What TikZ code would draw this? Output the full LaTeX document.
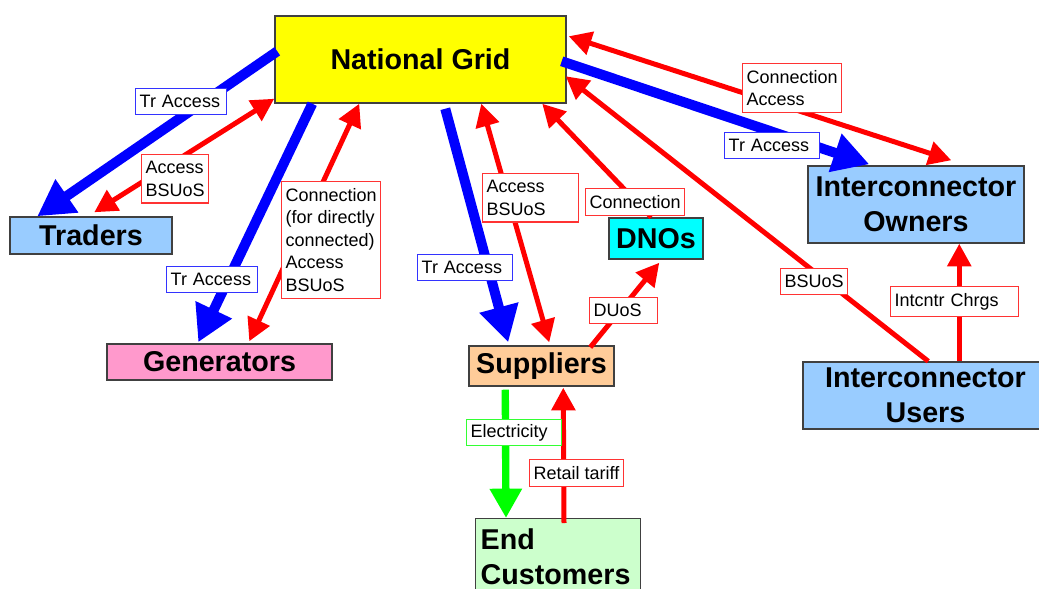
\documentclass[tikz,border=0pt]{standalone}
\usepackage{fontspec}
\setmainfont{Liberation Sans}
\usetikzlibrary{arrows.meta,calc}
\definecolor{grid}{HTML}{FFFF00}
\definecolor{icon}{HTML}{99CCFF}
\definecolor{gens}{HTML}{FF99CC}
\definecolor{supp}{HTML}{FFCC99}
\definecolor{dnos}{HTML}{00FFFF}
\definecolor{cust}{HTML}{CCFFCC}
\definecolor{tracc}{HTML}{0000FF}
\definecolor{money}{HTML}{FF0000}
\definecolor{power}{HTML}{00FF00}

\begin{document}
\begin{tikzpicture}[x=0.75pt, y=-0.75pt,
  party/.style={draw=black!75, line width=1.1pt, inner sep=0pt, align=center,
    font=\fontsize{21.5}{26.25}\selectfont\bfseries},
  flowtag/.style={draw=#1!80, fill=white, line width=1pt, anchor=north west, align=left,
    inner xsep=3pt, inner ysep=5pt, font=\fontsize{13.5}{16.9}\selectfont},
  trflow/.style={tracc, line width=7.5pt, -{Triangle[length=27pt,width=28.5pt]}},
  payflow/.style={money, line width=3.75pt, -{Triangle[length=17pt,width=17.5pt]}},
  payboth/.style={money, line width=3.75pt, {Triangle[length=17pt,width=17.5pt]}-{Triangle[length=17pt,width=17.5pt]}},
  elflow/.style={power, line width=5.5pt, -{Triangle[length=22pt,width=23pt]}}]
\useasboundingbox (0,0) rectangle (1039,589);
% parties
\node[party, fill=grid, minimum width=218.25pt, minimum height=65.25pt] (ng) at (420.5,59.5) {National Grid};
\node[party, fill=icon, minimum width=121.5pt, minimum height=27.75pt] (tr) at (91,235.5) {Traders};
\node[party, fill=gens, minimum width=168.75pt, minimum height=27pt] (gen) at (219.5,362) {Generators};
\node[party, fill=supp, minimum width=108.75pt, minimum height=30pt] (sup) at (541.5,366) {Suppliers};
\node[party, fill=dnos, minimum width=70.5pt, minimum height=30.75pt] (dno) at (656,238.5) {DNOs};
\node[party, fill=icon, minimum width=162pt, minimum height=57.75pt] (io) at (916,204.5) {Interconnector\\Owners};
\node[party, fill=icon, minimum width=183.75pt, minimum height=50.25pt] (iu) at (925.5,395.5) {Interconnector\\Users};
\node[party, fill=cust, anchor=north west, align=left, text width=116.25pt, inner xsep=3.75pt, inner ysep=7.5pt] (ec) at (475,518) {End\\Customers};
% transmission access (blue)
\draw[trflow] ($(ng.north west)+(3,36)$) -- ($(tr.north west)+(28,0)$);
\draw[trflow] ($(ng.south west)+(38,0)$) -- ($(gen.north west)+(92,-1)$);
\draw[trflow] ($(ng.south west)+(171,5)$) -- ($(sup.north west)+(40,-3)$);
\draw[trflow] ($(ng.north east)+(-5,46)$) -- ($(io.north west)+(62,-1)$);
% charges (red)
\draw[payboth] ($(ng.south west)+(0,-5)$) -- ($(tr.north west)+(85,-4)$);
\draw[payboth] ($(ng.south west)+(85,0)$) -- ($(gen.north west)+(143,-2)$);
\draw[payboth] ($(ng.south west)+(207,0)$) -- ($(sup.north west)+(81,-3)$);
\draw[payflow] ($(dno.north west)+(43,0)$) -- ($(ng.south west)+(268,0)$);
\draw[payflow] ($(sup.north west)+(122,2)$) -- ($(dno.south west)+(51,3)$);
\draw[payflow] ($(iu.north west)+(126,0)$) -- ($(ng.north east)+(-1,61)$);
\draw[payflow] ($(iu.north west)+(157,0)$) -- ($(io.south west)+(152,0)$);
\draw[payboth] ($(ng.north east)+(2,21)$) -- ($(io.north west)+(144,-5)$);
\draw[payflow] ($(ec.north west)+(89,5)$) -- ($(sup.south west)+(95,1)$);
% electricity (green)
\draw[elflow] ($(sup.south west)+(37,3)$) -- ($(ec.north west)+(31,0)$);
% labels
\node[flowtag=tracc, text width=62.25pt] (trTr) at (135,88) {Tr Access};
\node[flowtag=tracc, text width=62.25pt] (genTr) at (166,266) {Tr Access};
\node[flowtag=tracc, text width=65.25pt] (supTr) at (417,254) {Tr Access};
\node[flowtag=tracc, text width=65.25pt] (ioTr) at (724,132) {Tr Access};
\node[flowtag=money] (trPay) at (141,154) {Access\\BSUoS};
\node[flowtag=money] (genPay) at (281,181) {Connection\\(for directly\\connected)\\Access\\BSUoS};
\node[flowtag=money, text width=66pt] (supPay) at (482,173) {Access\\BSUoS};
\node[flowtag=money] (dnoPay) at (585,188) {Connection};
\node[flowtag=money, text width=45pt] (duos) at (589,297) {DUoS};
\node[flowtag=money] (iuPay) at (780,268) {BSUoS};
\node[flowtag=money, text width=90pt] (icPay) at (890,286) {Intcntr Chrgs};
\node[flowtag=money] (ioPay) at (742,63) {Connection\\Access};
\node[flowtag=money] (tariff) at (529,459) {Retail tariff};
\node[flowtag=power, text width=65.25pt, inner ysep=3.5pt] (elec) at (466,419) {Electricity};
\end{tikzpicture}
\end{document}
